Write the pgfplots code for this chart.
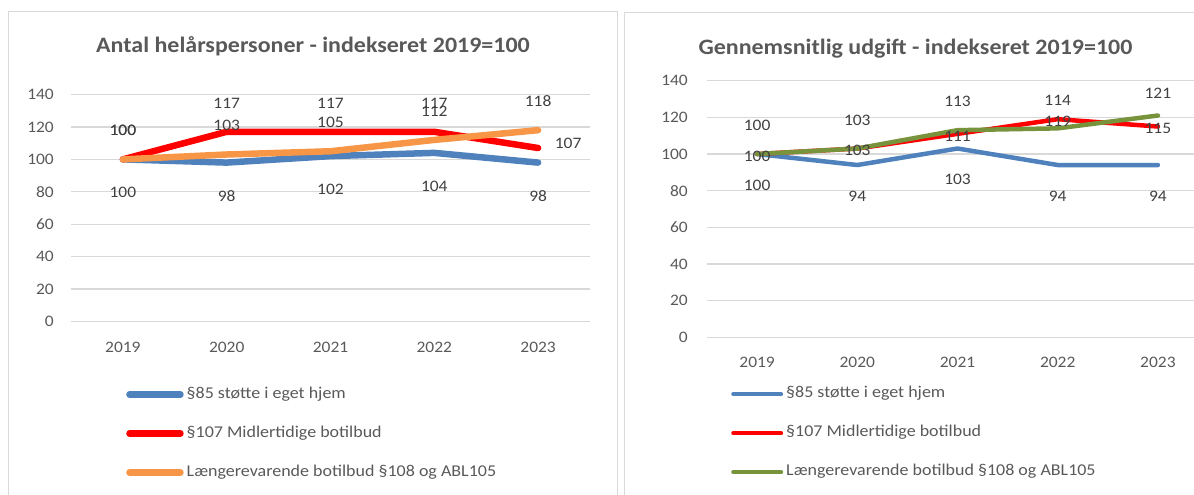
\documentclass[border=0pt]{standalone}
\usepackage{pgfplots}
\pgfplotsset{compat=1.18}
\usepackage{fontspec}
\setmainfont{Carlito}[FakeStretch=1.09]
\definecolor{cblue}{HTML}{4F81BD}
\definecolor{cred}{HTML}{FF0000}
\definecolor{corange}{HTML}{F79646}
\definecolor{cgreen}{HTML}{77933C}
\definecolor{textc}{HTML}{595959}
\definecolor{labelc}{HTML}{404040}
\definecolor{gridc}{HTML}{D9D9D9}
\newcommand{\tickfont}{\fontsize{16}{18}\selectfont}
\newcommand{\legfont}{\fontsize{16.5}{18}\selectfont}
\newcommand{\titlefont}{\fontsize{22}{24}\selectfont\bfseries}
\pgfplotsset{
  mystyle/.style={
    scale only axis,
    xmin=-0.5, xmax=4.5, ymin=0, ymax=140,
    xtick={0,1,2,3,4}, xticklabels={2019,2020,2021,2022,2023},
    ytick={0,20,...,140},
    ymajorgrids, major grid style={draw=gridc, line width=1.3pt},
    axis line style={draw=none},
    major tick length=0pt,
    tick label style={font=\tickfont, text=textc},
    yticklabel style={inner sep=0pt, anchor=east},
    xticklabel style={inner sep=0pt, anchor=north},
    /pgf/number format/assume math mode=true,
    clip=false,
    no marks,
    nodes near coords style={font=\tickfont, text=labelc, anchor=center},
    legend cell align=left,
    legend style={draw=none, fill=none, inner sep=0pt, font=\legfont, text=textc,
      anchor=west, column sep=3pt, nodes={inner sep=0pt, text height=11pt, text depth=4pt}},
  },
}
\begin{document}
\begin{tikzpicture}[x=1pt,y=1pt]
\useasboundingbox (0pt,0pt) rectangle (1194pt,-495pt);
\draw[gridc, line width=1pt] (8.5pt,-11.5pt) rectangle (617pt,-520pt);
\draw[gridc, line width=1pt] (624.5pt,-12.5pt) rectangle (1220pt,-520pt);
\node[font=\titlefont, text=textc, anchor=base] at (313pt,-53pt) {Antal helårspersoner - indekseret 2019=100};
\node[font=\titlefont, text=textc, anchor=base] at (915.5pt,-55pt) {Gennemsnitlig udgift - indekseret 2019=100};

% Left chart
\begin{axis}[mystyle,
  at={(71pt,-321.5pt)}, anchor=south west, width=519pt, height=227pt,
  yticklabel shift=17pt, xticklabel shift=20pt,
  legend style={at={(0.106,-0.4935)}, row sep=24pt},
  legend image code/.code={\draw[#1, line cap=round] (4pt,0pt) -- (55pt,0pt);},
]
\addplot[cblue, line width=6.5pt, line cap=round, line join=round,
  nodes near coords, nodes near coords style={yshift=-33.5pt}]
  coordinates {(0,100)(1,98)(2,102)(3,104)(4,98)};
\addlegendentry{§85 støtte i eget hjem}
\addplot[cred, line width=6.5pt, line cap=round, line join=round]
  coordinates {(0,100)(1,117)(2,117)(3,117)(4,107)};
\addlegendentry{§107 Midlertidige botilbud}
\addplot[corange, line width=6.5pt, line cap=round, line join=round,
  nodes near coords, nodes near coords style={yshift=29pt}]
  coordinates {(0,100)(1,103)(2,105)(3,112)(4,118)};
\addlegendentry{Længerevarende botilbud §108 og ABL105}
\addplot[draw=none, forget plot, nodes near coords, nodes near coords style={yshift=28.5pt}]
  coordinates {(0,100)(1,117)(2,117)(3,117)};
\addplot[draw=none, forget plot, nodes near coords, nodes near coords style={xshift=30pt, yshift=5pt}]
  coordinates {(4,107)};
\end{axis}

% Right chart
\begin{axis}[mystyle,
  at={(707pt,-337.3pt)}, anchor=south west, width=501pt, height=256.6pt,
  yticklabel shift=19pt, xticklabel shift=20pt,
  legend style={at={(0.0479,-0.3732)}, row sep=24pt},
  legend image code/.code={\draw[#1, line cap=round] (2.5pt,0pt) -- (50pt,0pt);},
]
\addplot[cblue, line width=4.5pt, line cap=round, line join=round,
  nodes near coords, nodes near coords style={yshift=-31pt}]
  coordinates {(0,100)(1,94)(2,103)(3,94)(4,94)};
\addlegendentry{§85 støtte i eget hjem}
\addplot[cred, line width=4.5pt, line cap=round, line join=round,
  nodes near coords, nodes near coords style={yshift=-2pt}]
  coordinates {(0,100)(1,103)(2,111)(3,119)(4,115)};
\addlegendentry{§107 Midlertidige botilbud}
\addplot[cgreen, line width=4.5pt, line cap=round, line join=round]
  coordinates {(0,100)(1,103)(2,113)(3,114)(4,121)};
\addlegendentry{Længerevarende botilbud §108 og ABL105}
\addplot[draw=none, forget plot, nodes near coords, nodes near coords style={yshift=28.5pt}]
  coordinates {(0,100)(1,103)(2,113)(3,114)};
\addplot[draw=none, forget plot, nodes near coords, nodes near coords style={yshift=22pt}]
  coordinates {(4,121)};
\end{axis}
\end{tikzpicture}
\end{document}
